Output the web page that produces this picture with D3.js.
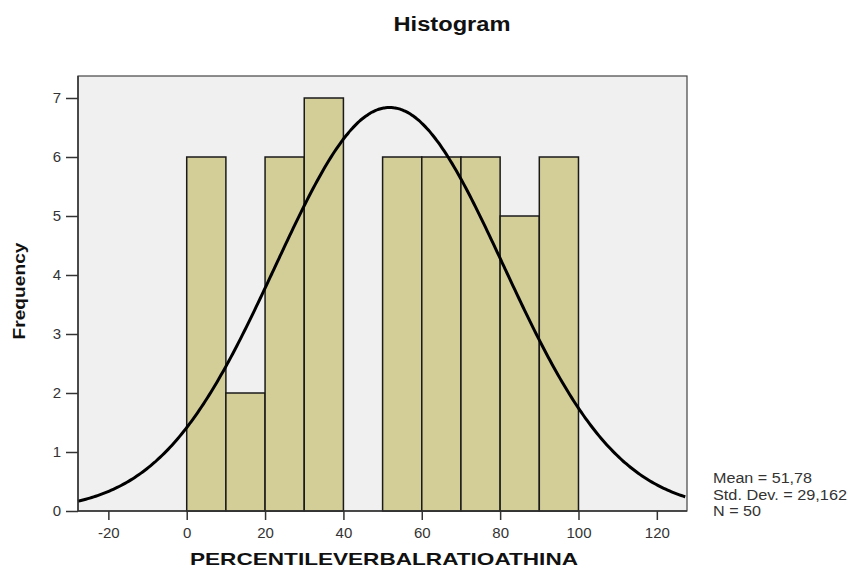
<!DOCTYPE html>
<html><head><meta charset="utf-8">
<script src="https://cdn.jsdelivr.net/npm/d3@7"></script>
<style>body{margin:0;background:#fff;}svg{display:block;font-family:"Liberation Sans",Arial,sans-serif;}</style>
</head><body>
<svg id="c" width="848" height="570"></svg>
<script>
const binStarts = [0,10,20,30,40,50,60,70,80,90];
const binWidth = 10;
const frequencies = [6,2,6,7,0,6,6,6,5,6];
const xTicks = [-20,0,20,40,60,80,100,120];
const yTicks = [0,1,2,3,4,5,6,7];
const meanVal = 51.78, sdVal = 29.162, nVal = 50;
const statLines = ["Mean = 51,78","Std. Dev. = 29,162","N = 50"];
const statWidths = [99,134,48];

const svg = d3.select("#c");
const L=78, R=687, T=76, B=511;
const x = d3.scaleLinear().domain([-27.75,127.7]).range([L,R]);
const y = d3.scaleLinear().domain([0,7]).range([B, B-7*59]);

svg.append("rect").attr("x",L).attr("y",T).attr("width",R-L).attr("height",B-T)
  .attr("fill","#f0f0f0").attr("stroke","#444").attr("stroke-width",1.2);

svg.append("g").selectAll("rect").data(binStarts.map((s,i)=>({s,f:frequencies[i]})).filter(d=>d.f>0))
  .join("rect")
  .attr("x",d=>x(d.s)).attr("width",d=>x(d.s+binWidth)-x(d.s))
  .attr("y",d=>y(d.f)).attr("height",d=>y(0)-y(d.f))
  .attr("fill","#d3cd98").attr("stroke","#1a1a1a").attr("stroke-width",1.5);

// normal curve scaled to N * bin width
const pdf = v => nVal*binWidth/(sdVal*Math.sqrt(2*Math.PI))*Math.exp(-0.5*((v-meanVal)/sdVal)**2);
const xs = d3.range(-27.75,127.71,0.5);
svg.append("path").datum(xs)
  .attr("d",d3.line().x(v=>x(v)).y(v=>y(pdf(v))).curve(d3.curveBasis))
  .attr("fill","none").attr("stroke","#000").attr("stroke-width",3);

// axes
const fmt = d => String(d);
const gx = svg.append("g").attr("transform",`translate(0,${B})`)
  .call(d3.axisBottom(x).tickValues(xTicks).tickFormat(fmt).tickSize(9).tickPadding(7));
gx.select(".domain").attr("stroke","#333").attr("stroke-width",1.5)
  .attr("d",`M${L},0H${R}`);
gx.selectAll(".tick line").attr("stroke","#333").attr("stroke-width",1.5);
gx.selectAll(".tick text").attr("font-size",15).attr("fill","#333")
  .attr("font-family","'Liberation Sans',Arial,sans-serif");

const gy = svg.append("g").attr("transform",`translate(${L},0)`)
  .call(d3.axisLeft(y).tickValues(yTicks).tickFormat(fmt).tickSize(12).tickPadding(5));
gy.select(".domain").attr("stroke","#333").attr("stroke-width",1.5)
  .attr("d",`M0,${T}V${B}`);
gy.selectAll(".tick line").attr("stroke","#333").attr("stroke-width",1.5);
gy.selectAll(".tick text").attr("font-size",15).attr("fill","#333")
  .attr("font-family","'Liberation Sans',Arial,sans-serif");

svg.append("text").attr("x",452).attr("y",31).attr("text-anchor","middle")
  .attr("font-size",20).attr("font-weight","bold").attr("fill","#111")
  .attr("textLength",117).attr("lengthAdjust","spacingAndGlyphs").text("Histogram");
svg.append("text").attr("x",384).attr("y",565).attr("text-anchor","middle")
  .attr("font-size",17).attr("font-weight","bold").attr("fill","#111")
  .attr("textLength",388).attr("lengthAdjust","spacingAndGlyphs")
  .text("PERCENTILEVERBALRATIOATHINA");
svg.append("text").attr("transform","translate(25,291) rotate(-90)").attr("text-anchor","middle")
  .attr("font-size",16).attr("font-weight","bold").attr("fill","#111")
  .attr("textLength",97).attr("lengthAdjust","spacingAndGlyphs").text("Frequency");

svg.append("g").selectAll("text").data(statLines).join("text")
  .attr("x",713).attr("y",(d,i)=>483+i*16.5)
  .attr("font-size",14).attr("fill","#333")
  .attr("textLength",(d,i)=>statWidths[i]).attr("lengthAdjust","spacingAndGlyphs")
  .text(d=>d);
</script>
</body></html>
